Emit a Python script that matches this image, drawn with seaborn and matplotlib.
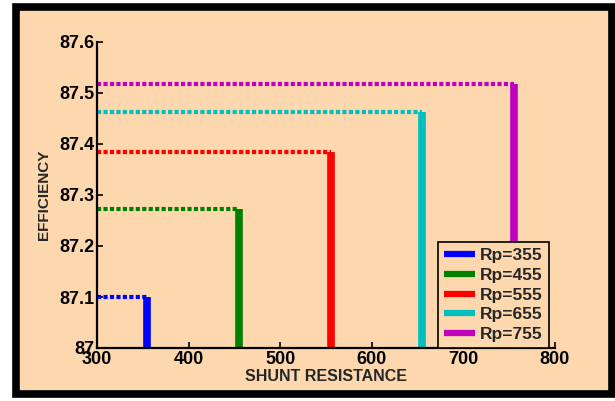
import matplotlib
matplotlib.use("Agg")
import matplotlib.pyplot as plt
from matplotlib.patches import Rectangle
from matplotlib.lines import Line2D
import seaborn as sns
import pandas as pd

# values
shunt = [355, 455, 555, 655, 755]
efficiency = [87.10, 87.272, 87.384, 87.462, 87.518]
labels = ["Rp=355", "Rp=455", "Rp=555", "Rp=655", "Rp=755"]
colors = ["#0000ff", "#008000", "#ff0000", "#00bfbf", "#bf00bf"]
x_start = 300
y_base = 87.0
xticks = [300, 400, 500, 600, 700, 800]
yticks = [87.0, 87.1, 87.2, 87.3, 87.4, 87.5, 87.6]
ytick_labels = ["87", "87.1", "87.2", "87.3", "87.4", "87.5", "87.6"]

sns.set_style("ticks")
plt.rcParams["font.family"] = ["Liberation Sans", "DejaVu Sans"]
plt.rcParams["font.weight"] = "bold"

peach = "#fdd8ae"
fig = plt.figure(figsize=(6.15, 4.01), dpi=100)
fig.patch.set_facecolor("white")

# black frame around the peach panel
frame = Rectangle((16 / 615, 7 / 401), 596 / 615, 387 / 401,
                  transform=fig.transFigure, facecolor=peach,
                  edgecolor="black", linewidth=5.5, zorder=-5)
fig.patches.append(frame)

ax = fig.add_axes([97 / 615, 1 - 348 / 401, 458 / 615, 306 / 401])
ax.set_facecolor(peach)

for rp, eff, col in zip(shunt, efficiency, colors):
    horiz = pd.DataFrame({"x": [x_start, rp], "y": [eff, eff]})
    sns.lineplot(data=horiz, x="x", y="y", ax=ax, color=col, linewidth=3,
                 linestyle=(0, (1, 0.55)), estimator=None, sort=False,
                 legend=False, solid_capstyle="butt", dash_capstyle="butt")
    vert = pd.DataFrame({"x": [rp, rp], "y": [y_base, eff]})
    sns.lineplot(data=vert, x="x", y="y", ax=ax, color=col, linewidth=5.5,
                 estimator=None, sort=False, legend=False,
                 solid_capstyle="butt")

ax.set_xlim(300, 800)
ax.set_ylim(87.0, 87.6)
ax.set_xticks(xticks)
ax.set_xticklabels([str(t) for t in xticks], fontsize=13, fontweight="bold")
ax.set_yticks(yticks)
ax.set_yticklabels(ytick_labels, fontsize=13, fontweight="bold")
ax.tick_params(direction="in", length=4, width=1.2, pad=2, colors="black")
sns.despine(ax=ax)
for s in ["left", "bottom"]:
    ax.spines[s].set_linewidth(1.6)
    ax.spines[s].set_color("black")

ax.set_xlabel("SHUNT RESISTANCE", fontsize=11.5, fontweight="bold", labelpad=1)
ax.set_ylabel("EFFICIENCY", fontsize=11, fontweight="bold", labelpad=6)

handles = [Line2D([0], [0], color=c, linewidth=4.5, solid_capstyle="butt")
           for c in colors]
leg = ax.legend(handles, labels, loc="lower right",
                bbox_to_anchor=(452 / 458, 0.0), frameon=True,
                fancybox=False, borderaxespad=0, handlelength=1.8,
                handletextpad=0.3, labelspacing=0.26, borderpad=0.35,
                prop={"size": 12.5, "weight": "bold"})
leg.get_frame().set_edgecolor("black")
leg.get_frame().set_facecolor(peach)
leg.get_frame().set_alpha(1)
leg.get_frame().set_linewidth(1.2)

fig.savefig("out.png", dpi=100, facecolor=fig.get_facecolor())
